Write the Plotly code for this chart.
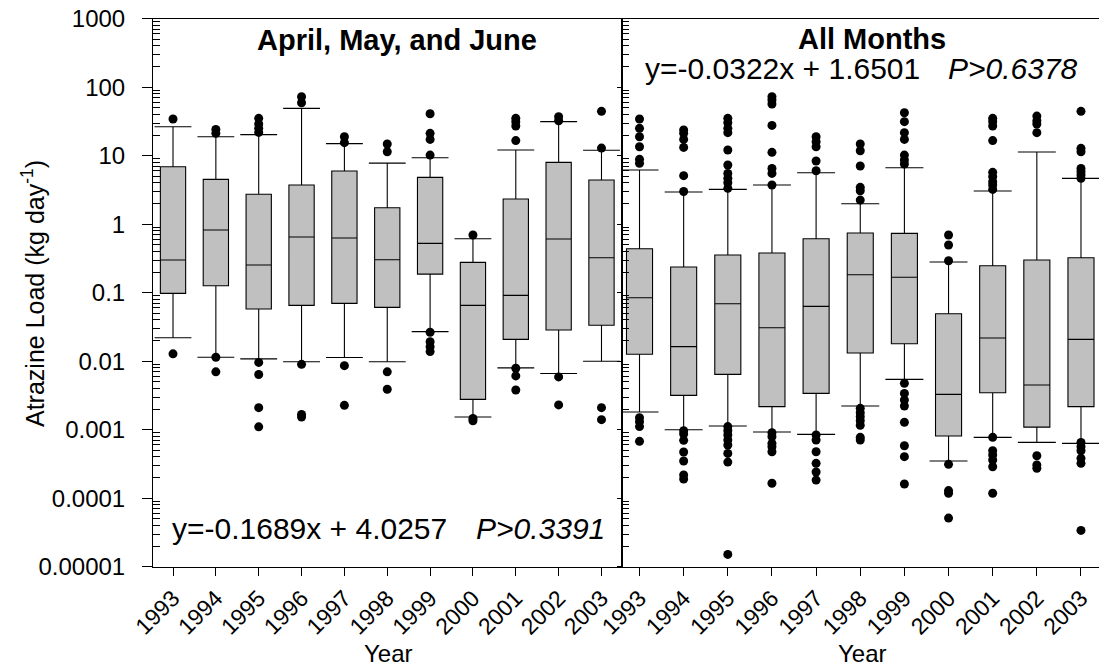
import numpy as np
import plotly.graph_objects as go

# ---- data -------------------------------------------------------------
years = ["1993", "1994", "1995", "1996", "1997", "1998",
         "1999", "2000", "2001", "2002", "2003"]

# April, May and June loads (kg/day)
amj_q1 = [0.0977, 0.126, 0.0578, 0.0653, 0.0699, 0.0611, 0.187, 0.00277, 0.0208, 0.0285, 0.0334]
amj_median = [0.30, 0.822, 0.254, 0.650, 0.628, 0.303, 0.525, 0.0653, 0.0914, 0.607, 0.324]
amj_q3 = [6.9, 4.51, 2.73, 3.73, 5.97, 1.74, 4.83, 0.277, 2.33, 7.99, 4.41]
amj_low = [0.022, 0.0114, 0.0108, 0.0098, 0.0113, 0.0098, 0.027, 0.00153, 0.0080, 0.0066, 0.0100]
amj_high = [26.5, 18.9, 20.3, 49.1, 15.0, 7.8, 9.35, 0.614, 12.1, 31.4, 12.0]
amj_outliers = [
    [34.4, 0.0128],
    [24.2, 21.2, 0.0114, 0.0070],
    [35.1, 29.0, 25.1, 21.9, 0.0096, 0.0064, 0.0021, 0.0011],
    [72.6, 59.4, 0.0090, 0.00167, 0.00153],
    [18.9, 15.5, 0.0086, 0.00227],
    [14.8, 11.4, 0.0070, 0.0039],
    [41.0, 21.2, 17.3, 10.2, 0.0265, 0.0193, 0.0163, 0.0138],
    [0.695, 0.00146, 0.00135],
    [35.1, 31.4, 27.1, 16.6, 0.0079, 0.0061, 0.0038],
    [37.1, 32.4, 0.0059, 0.0023],
    [44.4, 12.9, 0.0021, 0.0014],
]

# All months loads (kg/day)
all_q1 = [0.0126, 0.00317, 0.00642, 0.00217, 0.00339, 0.0132, 0.0180, 0.000809, 0.00347, 0.00109, 0.00217]
all_median = [0.0845, 0.0163, 0.0691, 0.0308, 0.0632, 0.183, 0.168, 0.00328, 0.0218, 0.00449, 0.0208]
all_q3 = [0.438, 0.237, 0.355, 0.379, 0.614, 0.743, 0.735, 0.0494, 0.248, 0.300, 0.324]
all_low = [0.00181, 0.00100, 0.00113, 0.000924, 0.000855, 0.00222, 0.00543, 0.000349, 0.000773, 0.000653, 0.000631]
all_high = [6.18, 2.95, 3.22, 3.73, 5.65, 1.99, 6.68, 0.281, 3.05, 11.3, 4.67]
all_outliers = [
    [34.3, 25.1, 18.9, 13.5, 8.84, 7.73, 0.00150, 0.00131, 0.00111, 0.000676],
    [23.7, 21.2, 17.3, 13.2, 5.11, 3.0, 0.000967, 0.000865, 0.000699, 0.000472, 0.000349, 0.000218, 0.000190],
    [35.1, 30.3, 25.1, 21.7, 12.1, 7.31, 5.52, 4.67, 4.03, 3.34,
     0.00111, 0.000967, 0.000836, 0.000707, 0.000597, 0.000451, 0.000337, 0.0000151],
    [72.6, 65.0, 56.8, 27.7, 11.2, 6.53, 5.52, 3.73,
     0.000903, 0.000791, 0.000632, 0.000565, 0.000477, 0.000165],
    [18.9, 16.0, 13.5, 8.36, 6.04, 0.00084, 0.000707, 0.000477, 0.000323, 0.000241, 0.000184],
    [14.8, 11.8, 7.07, 3.45, 3.08, 2.25, 0.00205, 0.00177, 0.00155, 0.00135, 0.00116, 0.000773, 0.000707],
    [42.4, 31.4, 21.7, 17.3, 10.2, 8.65, 7.56,
     0.00475, 0.00339, 0.00271, 0.00222, 0.00128, 0.000584, 0.000404, 0.000161],
    [0.695, 0.497, 0.293, 0.000312, 0.000129, 0.000118, 0.0000513],
    [35.1, 31.4, 27.1, 16.6, 5.71, 4.94, 4.17, 3.73, 3.22,
     0.000773, 0.000493, 0.000427, 0.000361, 0.000288, 0.000118],
    [37.9, 32.4, 29.0, 21.7, 0.000417, 0.000305, 0.000273],
    [44.4, 12.8, 11.4, 6.53, 5.84, 5.22, 4.67,
     0.000653, 0.000565, 0.000493, 0.000382, 0.000323, 0.0000339],
]

y_tick_values = [1e-5, 1e-4, 1e-3, 1e-2, 1e-1, 1, 10, 100, 1000]
y_tick_labels = ["0.00001", "0.0001", "0.001", "0.01", "0.1", "1", "10", "100", "1000"]

# ---- figure -----------------------------------------------------------
FONT = "Arial, Liberation Sans, sans-serif"
W, H = 1099, 668
pos = np.arange(len(years))
BOX_W = 0.59
CAP_HALF = 0.43

fig = go.Figure()


def add_panel(xa, ya, q1, med, q3, lo, hi, outliers):
    fig.add_trace(go.Box(
        x=pos, q1=q1, median=med, q3=q3, lowerfence=lo, upperfence=hi,
        width=BOX_W, whiskerwidth=0, boxpoints=False,
        fillcolor="#c0c0c0", line=dict(color="black", width=1.1),
        xaxis=xa, yaxis=ya, hoverinfo="skip",
    ))
    cx, cy = [], []
    for p, l, h in zip(pos, lo, hi):
        cx += [p - CAP_HALF, p + CAP_HALF, None, p - CAP_HALF, p + CAP_HALF, None]
        cy += [h, h, None, l, l, None]
    fig.add_trace(go.Scatter(
        x=cx, y=cy, mode="lines", line=dict(color="black", width=1.1),
        xaxis=xa, yaxis=ya, hoverinfo="skip",
    ))
    ox, oy = [], []
    for p, vals in zip(pos, outliers):
        ox += [p] * len(vals)
        oy += vals
    fig.add_trace(go.Scatter(
        x=ox, y=oy, mode="markers",
        marker=dict(color="black", size=9, line=dict(width=0)),
        xaxis=xa, yaxis=ya, hoverinfo="skip",
    ))


add_panel("x", "y", amj_q1, amj_median, amj_q3, amj_low, amj_high, amj_outliers)
add_panel("x2", "y2", all_q1, all_median, all_q3, all_low, all_high, all_outliers)

# minor log ticks (2..9 within every decade)
minor_vals = [k * 10.0 ** d for d in range(-5, 3) for k in range(2, 10)]

x_left = 153 / W
x_mid = 621.5 / W
y_bot = 1 - 566.7 / H
y_top = 1 - 18.7 / H

xaxis_common = dict(
    tickvals=pos, ticktext=years, tickangle=-45,
    ticks="outside", ticklen=8, tickwidth=1, tickcolor="black",
    showline=True, linecolor="black", linewidth=1, mirror=True,
    showgrid=False, zeroline=False,
    tickfont=dict(family=FONT, size=23, color="black"),
    automargin=False,
)
fig.update_layout(
    xaxis=dict(domain=[x_left, x_mid], range=[-0.467, 10.467], anchor="y", **xaxis_common),
    xaxis2=dict(domain=[x_mid, 1.0], range=[-0.408, 10.408], anchor="y2", **xaxis_common),
    yaxis=dict(
        type="log", range=[-5, 3], domain=[y_bot, y_top], anchor="x",
        tickvals=y_tick_values, ticktext=y_tick_labels,
        ticks="outside", ticklen=10, tickwidth=1, tickcolor="black",
        ticklabelstandoff=12,
        minor=dict(tickvals=minor_vals, ticks="inside", ticklen=7, tickcolor="black", showgrid=False),
        showline=True, linecolor="black", linewidth=1, mirror=True,
        showgrid=False, zeroline=False,
        tickfont=dict(family=FONT, size=24, color="black"),
        automargin=False,
    ),
    yaxis2=dict(
        type="log", range=[-5, 3], domain=[y_bot, y_top], anchor="x2",
        tickvals=y_tick_values, showticklabels=False,
        ticks="outside", ticklen=4, tickwidth=1, tickcolor="black",
        minor=dict(tickvals=minor_vals, ticks="inside", ticklen=7, tickcolor="black", showgrid=False),
        showline=True, linecolor="black", linewidth=1,
        showgrid=False, zeroline=False, automargin=False,
    ),
    width=W, height=H,
    margin=dict(l=0, r=0, t=0, b=0),
    paper_bgcolor="white", plot_bgcolor="white",
    showlegend=False,
    font=dict(family=FONT, color="black"),
)


def px(x, y):
    return x / W, 1 - y / H


annotations = []


def note(text, x, y, size, xanchor="center", bold=False, angle=0):
    ax, ay = px(x, y)
    annotations.append(dict(
        text=f"<b>{text}</b>" if bold else text,
        x=ax, y=ay, xref="paper", yref="paper",
        xanchor=xanchor, yanchor="middle", showarrow=False, textangle=angle,
        font=dict(family=FONT, size=size, color="black"),
    ))


note("April, May, and June", 397, 40, 29, bold=True)
note("All Months", 872, 39, 29, bold=True)
note("y=-0.1689x + 4.0257", 170, 528, 30, xanchor="left")
note("<i>P>0.3391</i>", 607, 528, 30, xanchor="right")
note("y=-0.0322x + 1.6501", 643, 68, 30, xanchor="left")
note("<i>P>0.6378</i>", 1080, 68, 30, xanchor="right")
note("Year", 388, 653, 24)
note("Year", 862, 653, 24)
note("Atrazine Load (kg day<sup>-1</sup>)", 33, 294, 25, angle=-90)

fig.update_layout(annotations=annotations)

fig.write_html("out.html")
